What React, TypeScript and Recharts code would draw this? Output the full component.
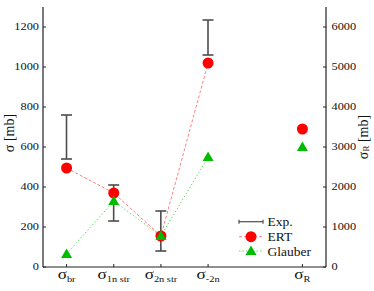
import { ComposedChart, Bar, Line, XAxis, YAxis, Legend } from 'recharts';

const categories = ['br', '1n str', '2n str', '-2n', '', 'R'];
const expLow = [540, 230, 80, 1060, null, null];
const expHigh = [760, 410, 280, 1235, null, null];
const ertValues = [495, 370, 155, 1020, null, null];
const glauberValues = [65, 330, 155, 550, null, null];
const ertReaction = [null, null, null, null, null, 3450];
const glauberReaction = [null, null, null, null, null, 3000];
const leftTicks = [0, 200, 400, 600, 800, 1000, 1200];
const rightTicks = [0, 1000, 2000, 3000, 4000, 5000, 6000];

const data = categories.map((cat, i) => ({
  cat,
  exp: expLow[i] != null ? [expLow[i], expHigh[i]] : null,
  ert: ertValues[i],
  glauber: glauberValues[i],
  ertR: ertReaction[i],
  glauberR: glauberReaction[i],
}));

const serif = "Liberation Serif, DejaVu Serif, serif";
const textStyle = { fontFamily: serif };
const axisColor = '#222';

const ErrorShape = (props: any) => {
  const { x, y, width, height } = props;
  if (x == null || y == null || !height) return <g />;
  const cx = x + width / 2;
  return (
    <g stroke="#4d4d4d" strokeWidth={1.6}>
      <line x1={cx} x2={cx} y1={y} y2={y + height} />
      <line x1={x} x2={x + width} y1={y} y2={y} />
      <line x1={x} x2={x + width} y1={y + height} y2={y + height} />
    </g>
  );
};

const circleDot = (props: any) => {
  const { cx, cy, key } = props;
  if (cx == null || cy == null || props.value == null) return <g key={key} />;
  return <circle key={key} cx={cx} cy={cy} r={5.5} fill="#ff0000" />;
};

const triangleDot = (props: any) => {
  const { cx, cy, key } = props;
  if (cx == null || cy == null || props.value == null) return <g key={key} />;
  return (
    <polygon
      key={key}
      points={`${cx},${cy - 5.5} ${cx - 5.5},${cy + 4} ${cx + 5.5},${cy + 4}`}
      fill="#00bb00"
    />
  );
};

const XTick = (props: any) => {
  const { x, y, payload } = props;
  if (!payload.value) return <g />;
  return (
    <g>
      <line x1={x} x2={x} y1={y - 3} y2={y} stroke={axisColor} />
      <g transform={`translate(${x},${y + 11.5}) scale(1.15,1)`}>
        <text x={0} y={0} textAnchor="middle" style={textStyle} fill="#111">
          <tspan fontSize={15}>σ</tspan>
          <tspan fontSize={9} dy={3}>{payload.value}</tspan>
        </text>
      </g>
    </g>
  );
};

const LeftTick = (props: any) => {
  const { x, y, payload } = props;
  return (
    <g>
      <line x1={x} x2={x + 3} y1={y} y2={y} stroke={axisColor} />
      <g transform={`translate(${x - 4},${y}) scale(1.3,1)`}>
        <text x={0} y={0} dy="0.35em" textAnchor="end" fontSize={9.5} style={textStyle} fill="#111">
          {payload.value}
        </text>
      </g>
    </g>
  );
};

const RightTick = (props: any) => {
  const { x, y, payload } = props;
  return (
    <g>
      <line x1={x - 3} x2={x} y1={y} y2={y} stroke={axisColor} />
      <g transform={`translate(${x + 5.5},${y}) scale(1.3,1)`}>
        <text x={0} y={0} dy="0.35em" textAnchor="start" fontSize={9.5} style={textStyle} fill="#111">
          {payload.value}
        </text>
      </g>
    </g>
  );
};

const renderLegend = () => (
  <svg width={110} height={52} style={{ overflow: 'visible' }}>
    <g stroke="#4d4d4d" strokeWidth={1.2}>
      <line x1={3} x2={27} y1={11.7} y2={11.7} />
      <line x1={3} x2={3} y1={9.7} y2={13.7} />
      <line x1={27} x2={27} y1={9.7} y2={13.7} />
    </g>
    <line x1={3} x2={27} y1={26.7} y2={26.7} stroke="#ff7f7f" strokeDasharray="3 2" />
    <circle cx={15} cy={26.7} r={5.5} fill="#ff0000" />
    <line x1={3} x2={27} y1={41} y2={41} stroke="#66dd66" strokeDasharray="1.5 2" />
    <polygon points="15,35.5 9.5,45 20.5,45" fill="#00bb00" />
    <g style={textStyle} fontSize={13.5} fill="#111">
      <text x={31.5} y={15.9}>Exp.</text>
      <text x={31.5} y={31.2}>ERT</text>
      <text x={31.5} y={45.5}>Glauber</text>
    </g>
  </svg>
);

export default function App() {
  return (
    <div style={{ position: 'absolute', left: 0, top: 0, width: 374, height: 291, fontFamily: serif }}>
      <ComposedChart width={374} height={291} data={data} margin={{ top: 7, right: 0, bottom: 0, left: 0 }}>
        <XAxis
          dataKey="cat"
          type="category"
          scale="band"
          height={24}
          tickSize={0}
          tickLine={false}
          tickMargin={0}
          interval={0}
          tick={<XTick />}
          axisLine={{ stroke: axisColor, strokeWidth: 1.2 }}
        />
        <XAxis
          xAxisId="top"
          dataKey="cat"
          orientation="top"
          height={0}
          tick={false}
          tickLine={false}
          axisLine={{ stroke: '#8a8a8a', strokeWidth: 1.5 }}
        />
        <YAxis
          yAxisId="left"
          domain={[0, 1300]}
          ticks={leftTicks}
          width={43}
          tickSize={0}
          tickMargin={0}
          tickLine={false}
          tick={<LeftTick />}
          axisLine={{ stroke: axisColor, strokeWidth: 1.2 }}
          label={{
            content: () => (
              <text
                transform="translate(9,133) rotate(-90)"
                textAnchor="middle"
                dominantBaseline="central"
                style={textStyle}
                fontSize={14}
                fill="#111"
              >
                σ [mb]
              </text>
            ),
          }}
        />
        <YAxis
          yAxisId="right"
          orientation="right"
          domain={[0, 6500]}
          ticks={rightTicks}
          width={48}
          tickSize={0}
          tickMargin={0}
          tickLine={false}
          tick={<RightTick />}
          axisLine={{ stroke: axisColor, strokeWidth: 1.2 }}
          label={{
            content: () => (
              <text
                transform="translate(363,137) rotate(-90)"
                textAnchor="middle"
                dominantBaseline="central"
                style={textStyle}
                fontSize={14}
                fill="#111"
              >
                <tspan>σ</tspan>
                <tspan fontSize={9} dy={3}>R</tspan>
                <tspan dy={-3}> [mb]</tspan>
              </text>
            ),
          }}
        />
        <Legend
          layout="vertical"
          align="center"
          verticalAlign="middle"
          content={renderLegend}
          wrapperStyle={{ left: 236, top: 210, width: 110, height: 52 }}
        />
        <Bar yAxisId="left" dataKey="exp" barSize={11} shape={<ErrorShape />} isAnimationActive={false} />
        <Line
          yAxisId="left"
          dataKey="ert"
          stroke="#ff7f7f"
          strokeWidth={1}
          strokeDasharray="3 2"
          dot={circleDot}
          activeDot={false}
          isAnimationActive={false}
        />
        <Line
          yAxisId="right"
          dataKey="ertR"
          stroke="none"
          dot={circleDot}
          activeDot={false}
          isAnimationActive={false}
        />
        <Line
          yAxisId="left"
          dataKey="glauber"
          stroke="#66dd66"
          strokeWidth={1}
          strokeDasharray="1.5 2"
          dot={triangleDot}
          activeDot={false}
          isAnimationActive={false}
        />
        <Line
          yAxisId="right"
          dataKey="glauberR"
          stroke="none"
          dot={triangleDot}
          activeDot={false}
          isAnimationActive={false}
        />
      </ComposedChart>
    </div>
  );
}
